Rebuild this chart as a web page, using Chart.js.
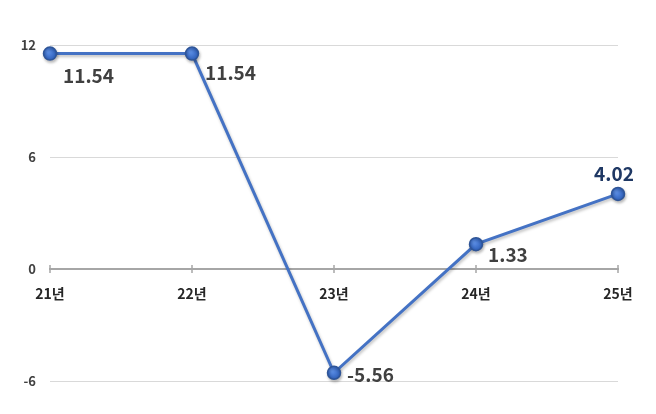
<!DOCTYPE html>
<html>
<head>
<meta charset="utf-8">
<script src="https://cdn.jsdelivr.net/npm/chart.js@4"></script>
<style>
html,body{margin:0;padding:0;background:#fff;}
#wrap{width:656px;height:414px;position:relative;}
</style>
</head>
<body>
<div id="wrap"><canvas id="c" width="656" height="414"></canvas></div>
<script>
const categories = ["21년", "22년", "23년", "24년", "25년"];
const values = [11.54, 11.54, -5.56, 1.33, 4.02];
const valueLabels = ["11.54", "11.54", "-5.56", "1.33", "4.02"];
const yTicks = [-6, 0, 6, 12];

const FONT = "'Noto Sans CJK KR', 'Noto Sans', sans-serif";

// label offsets relative to point (px) and colors
const labelOffsets = [[13, 22], [13, 19], [13, 2], [12, 11], [-4, -20]];
const labelAlign = ["left", "left", "left", "left", "center"];
const labelColors = ["#404040", "#404040", "#404040", "#404040", "#1f3864"];

const zeroTicks = {
  id: 'zeroTicks',
  afterDraw(chart) {
    const ctx = chart.ctx, x = chart.scales.x, y = chart.scales.y;
    const y0 = y.getPixelForValue(0);
    ctx.save();
    ctx.strokeStyle = '#a6a6a6';
    ctx.lineWidth = 1.5;
    x.ticks.forEach((t, i) => {
      const px = x.getPixelForTick(i);
      ctx.beginPath();
      ctx.moveTo(px, y0 - 4);
      ctx.lineTo(px, y0 + 4);
      ctx.stroke();
    });
    ctx.restore();
  }
};

const valueLabelPlugin = {
  id: 'valueLabels',
  afterDatasetsDraw(chart) {
    const ctx = chart.ctx;
    const meta = chart.getDatasetMeta(0);
    ctx.save();
    ctx.font = "bold 19px " + FONT;
    ctx.textBaseline = 'middle';
    meta.data.forEach((pt, i) => {
      ctx.fillStyle = labelColors[i];
      ctx.textAlign = labelAlign[i];
      ctx.fillText(valueLabels[i], pt.x + labelOffsets[i][0], pt.y + labelOffsets[i][1]);
    });
    ctx.restore();
  }
};

const shadowPlugin = {
  id: 'lineShadow',
  beforeDatasetsDraw(chart) {
    const ctx = chart.ctx;
    ctx.save();
    ctx.shadowColor = 'rgba(0,0,0,0.25)';
    ctx.shadowBlur = 3;
    ctx.shadowOffsetX = 1;
    ctx.shadowOffsetY = 2;
  },
  afterDatasetsDraw(chart) {
    chart.ctx.restore();
  }
};

const ctx = document.getElementById('c').getContext('2d');
function pointFill(context) {
  const el = context.element;
  if (!el || el.x === undefined) return '#3a6fcc';
  const g = context.chart.ctx.createRadialGradient(el.x - 2, el.y - 2, 1, el.x, el.y, 7);
  g.addColorStop(0, '#5b8ee6');
  g.addColorStop(1, '#2a5bb5');
  return g;
}

new Chart(ctx, {
  type: 'line',
  data: {
    labels: categories,
    datasets: [{
      data: values,
      borderColor: '#4472c4',
      borderWidth: 3,
      pointRadius: 6.5,
      pointBorderWidth: 1.5,
      pointBorderColor: '#2f5597',
      pointBackgroundColor: pointFill,
      tension: 0,
      clip: false
    }]
  },
  options: {
    responsive: false,
    animation: false,
    devicePixelRatio: 1,
    layout: { padding: { left: 0, right: 38, top: 45, bottom: 33 } },
    plugins: { legend: { display: false }, tooltip: { enabled: false } },
    scales: {
      x: {
        position: { y: 0 },
        offset: false,
        grid: { display: false, drawTicks: false },
        border: { display: true, color: '#a6a6a6', width: 2 },
        ticks: {
          color: '#262626',
          padding: 16,
          font: { family: FONT, size: 14, weight: 'bold' },
          maxRotation: 0
        }
      },
      y: {
        min: -6, max: 12,
        afterFit(s) { s.width = 50; },
        afterBuildTicks(s) { s.ticks = yTicks.map(v => ({ value: v })); },
        grid: { color: '#d9d9d9', lineWidth: 1, drawTicks: false },
        border: { display: false },
        ticks: {
          color: '#404040',
          padding: 14,
          font: { family: FONT, size: 13, weight: 'bold' }
        }
      }
    }
  },
  plugins: [zeroTicks, shadowPlugin, valueLabelPlugin]
});
</script>
</body>
</html>
